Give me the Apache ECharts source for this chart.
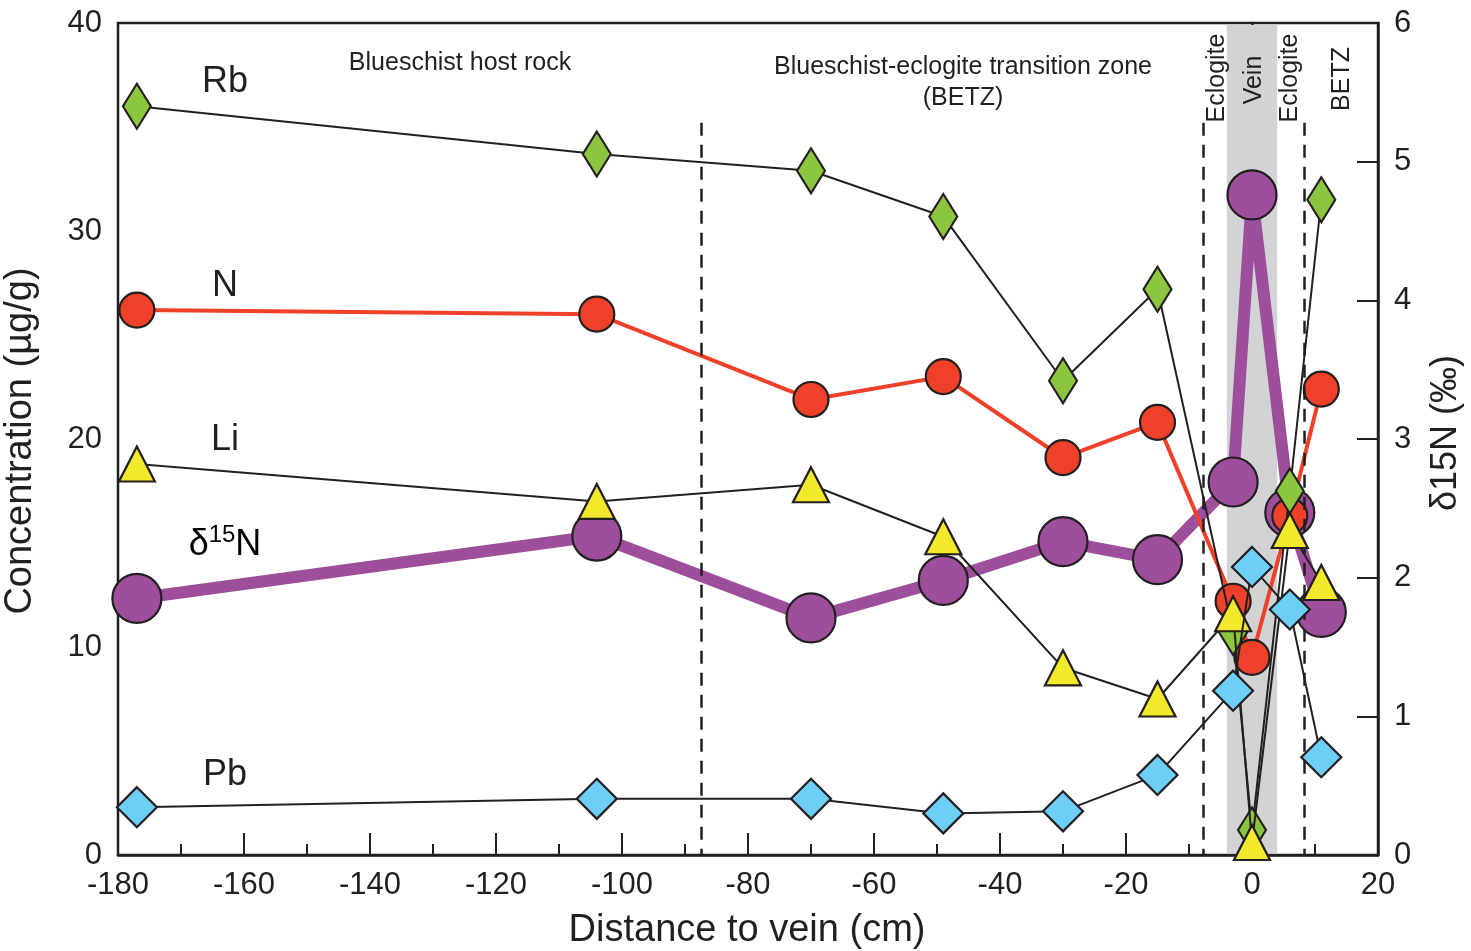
<!DOCTYPE html>
<html>
<head>
<meta charset="utf-8">
<script src="https://cdn.jsdelivr.net/npm/echarts@6/dist/echarts.min.js"></script>
<style>
html,body{margin:0;padding:0;background:#fff;}
#chart{width:1471px;height:951px;}
</style>
</head>
<body>
<div id="chart"></div>
<script>
// ---- data ----
const distance = [-177, -104, -70, -49, -30, -15, -3, 0, 6, 11];
const rb   = [36.0, 33.7, 32.9, 30.7, 22.8, 27.2, 10.7, 1.2, 17.5, 31.5];
const nConc = [26.2, 26.0, 21.9, 23.0, 19.1, 20.8, 12.2, 9.5, 16.3, 22.4];
const li   = [18.8, 17.0, 17.8, 15.3, 9.0, 7.5, 11.6, 0.6, 15.6, 13.1];
const pb   = [2.3, 2.7, 2.7, 2.0, 2.1, 3.85, 7.9, 13.85, 11.8, 4.7];
const d15N = [1.85, 2.30, 1.71, 1.98, 2.26, 2.13, 2.69, 4.76, 2.47, 1.75];
const xTicks = [-180, -160, -140, -120, -100, -80, -60, -40, -20, 0, 20];
const boundaries = [-87.5, -7.8, 8.3];
const veinZone = [-4, 4];

const ink = '#231f20';
const pairs = (ys) => distance.map((x, i) => [x, ys[i]]);
const FONT = '"Liberation Sans", Arial, sans-serif';

const chart = echarts.init(document.getElementById('chart'), null, {renderer: 'canvas'});

function txt(x, y, text, size, rot) {
  return {type: 'text', x: x, y: y, z: 100, zlevel: 0, rotation: rot || 0,
    style: {text: text, font: size + 'px ' + FONT, fill: ink, align: 'center', verticalAlign: 'middle'}};
}

const option = {
  backgroundColor: '#ffffff',
  animation: false,
  grid: {left: 118, right: 93, top: 23, bottom: 96, show: true, borderColor: ink, borderWidth: 2.5, backgroundColor: 'transparent'},
  xAxis: {
    type: 'value', min: -180, max: 20, interval: 20,
    axisLine: {lineStyle: {color: ink, width: 2.5}},
    axisTick: {inside: true, length: 22, lineStyle: {color: ink, width: 2}},
    minorTick: {show: true, splitNumber: 2, length: 11, lineStyle: {color: ink, width: 2}},
    splitLine: {show: false},
    axisLabel: {color: ink, fontSize: 31, fontFamily: FONT, margin: 15,
      formatter: v => xTicks.includes(v) ? String(v) : ''}
  },
  yAxis: [{
    type: 'value', min: 0, max: 40, interval: 10,
    axisLine: {show: true, lineStyle: {color: ink, width: 2.5}},
    axisTick: {show: true, inside: true, length: 21, lineStyle: {color: ink, width: 2}},
    minorTick: {show: true, splitNumber: 5, length: 11, lineStyle: {color: ink, width: 2}},
    splitLine: {show: false},
    axisLabel: {color: ink, fontSize: 31, fontFamily: FONT, margin: 16}
  }, {
    type: 'value', min: 0, max: 6, interval: 1, position: 'right',
    axisLine: {show: true, lineStyle: {color: ink, width: 2.5}},
    axisTick: {show: true, inside: true, length: 21, lineStyle: {color: ink, width: 2}},
    splitLine: {show: false},
    axisLabel: {color: ink, fontSize: 31, fontFamily: FONT, margin: 16}
  }],
  series: [
    {
      type: 'line', data: [], z: 1, silent: true,
      markArea: {silent: true, itemStyle: {color: '#d1d3d4'},
        data: [[{xAxis: veinZone[0], yAxis: 0.1}, {xAxis: veinZone[1], yAxis: 39.9}]]},
      markLine: {silent: true, symbol: 'none', label: {show: false},
        lineStyle: {color: ink, width: 2.5, type: [13, 9]},
        data: boundaries.map(b => [{coord: [b, 35.2]}, {coord: [b, 0]}])}
    },
    {
      name: 'd15N', type: 'line', yAxisIndex: 1, data: pairs(d15N), z: 2,
      lineStyle: {color: '#9e4f9c', width: 12}, symbol: 'circle', symbolSize: 49,
      itemStyle: {color: '#9e4f9c', borderColor: ink, borderWidth: 2.2}
    },
    {
      name: 'N', type: 'line', data: pairs(nConc), z: 3,
      lineStyle: {color: '#ef4129', width: 4}, symbol: 'circle', symbolSize: 35,
      itemStyle: {color: '#ef4129', borderColor: ink, borderWidth: 2.2}
    },
    {
      name: 'Rb', type: 'line', data: pairs(rb), z: 4,
      lineStyle: {color: ink, width: 2}, symbol: 'diamond', symbolSize: [28, 45],
      itemStyle: {color: '#8cc63f', borderColor: ink, borderWidth: 2.2}
    },
    {
      name: 'Li', type: 'line', data: pairs(li), z: 5,
      lineStyle: {color: ink, width: 2}, symbol: 'triangle', symbolSize: [36, 35],
      itemStyle: {color: '#f2e82c', borderColor: ink, borderWidth: 2.2}
    },
    {
      name: 'Pb', type: 'line', data: pairs(pb), z: 6,
      lineStyle: {color: ink, width: 2}, symbol: 'diamond', symbolSize: [40, 40],
      itemStyle: {color: '#6dcff6', borderColor: ink, borderWidth: 2.2}
    }
  ],
  graphic: [
    // series labels
    txt(225, 82, 'Rb', 36),
    txt(225, 286, 'N', 36),
    txt(225, 440, 'Li', 36),
    {type: 'text', x: 225, y: 543, z: 100, style: {text: '{a|δ}{s|15}{a|N}', align: 'center', verticalAlign: 'middle',
      rich: {a: {fontSize: 36, fontFamily: FONT, color: ink, verticalAlign: 'bottom', lineHeight: 40},
             s: {fontSize: 24, fontFamily: FONT, color: ink, verticalAlign: 'top', lineHeight: 40, padding: [0, 0, 14, 0]}}}},
    txt(225, 775, 'Pb', 36),
    // zone annotations
    txt(460, 63, 'Blueschist host rock', 25),
    txt(963, 67, 'Blueschist-eclogite transition zone', 25),
    txt(963, 98, '(BETZ)', 25),
    txt(1217, 78, 'Eclogite', 25, Math.PI / 2),
    txt(1254, 80, 'Vein', 25, Math.PI / 2),
    txt(1290, 78, 'Eclogite', 25, Math.PI / 2),
    txt(1342, 79, 'BETZ', 25, Math.PI / 2),
    // axis titles
    txt(21, 441, 'Concentration (µg/g)', 38, Math.PI / 2),
    txt(747, 931, 'Distance to vein (cm)', 38),
    txt(1446, 433, 'δ15N (‰)', 36, Math.PI / 2)
  ]
};
chart.setOption(option);
</script>
</body>
</html>
